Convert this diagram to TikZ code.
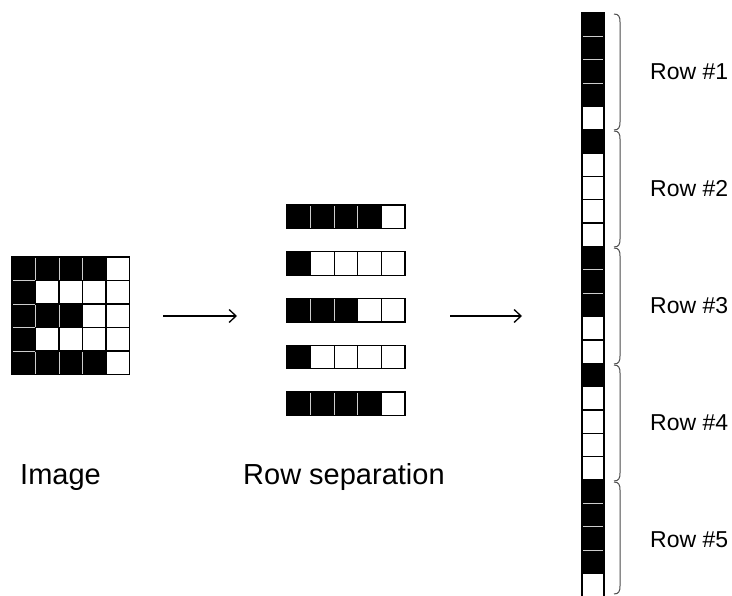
\documentclass[tikz,border=0pt]{standalone}
\usepackage{fontspec}
\setmainfont{Liberation Sans}
\usetikzlibrary{arrows.meta}
\begin{document}
\begin{tikzpicture}[x=1pt,y=-1pt,
  cell/.style={inner sep=0pt,outer sep=0pt,anchor=north west},
  blk/.style={cell,fill=black,draw=white!80!black,line width=0.9pt},
  wht/.style={cell,fill=white,draw=black,line width=1.3pt},
  gsz/.style={minimum width=23.5pt,minimum height=23.5pt},
  ssz/.style={minimum width=23.6pt,minimum height=23.6pt},
  csz/.style={minimum width=22pt,minimum height=23.35pt},
  frm/.style={draw=black,line width=1.3pt},
  arr/.style={line width=1.3pt,-{Straight Barb[length=7pt,width=13pt,line width=1.3pt]}},
  brc/.style={draw=black!70,line width=1pt},
  lblbig/.style={inner sep=0pt,font=\fontsize{29}{34}\selectfont},
  lblrow/.style={inner sep=0pt,font=\fontsize{23}{27}\selectfont}]

\fill[white] (0,0) rectangle (732,596);
\useasboundingbox (0,0) rectangle (732,596);

% ---- the 5x5 image: each row starts with \n black pixels ----
\foreach \r/\n in {1/4,2/1,3/3,4/1,5/4}{
  \foreach \c in {1,...,5}{
    \ifnum\c>\n\relax\else
      \node[blk,gsz] (img-\r-\c) at ({12+(\c-1)*23.5},{257+(\r-1)*23.5}) {};
    \fi
  }
}
\foreach \r/\n in {1/4,2/1,3/3,4/1,5/4}{
  \foreach \c in {1,...,5}{
    \ifnum\c>\n\relax
      \node[wht,gsz] (img-\r-\c) at ({12+(\c-1)*23.5},{257+(\r-1)*23.5}) {};
    \fi
  }
}
\draw[frm] (img-1-1.north west) rectangle (img-5-5.south east);

% ---- rows pulled apart ----
\foreach \r/\n in {1/4,2/1,3/3,4/1,5/4}{
  \foreach \c in {1,...,5}{
    \ifnum\c>\n\relax
      \node[wht,ssz] (sep-\r-\c) at ({287+(\c-1)*23.6},{205+(\r-1)*46.75}) {};
    \else
      \node[blk,ssz] (sep-\r-\c) at ({287+(\c-1)*23.6},{205+(\r-1)*46.75}) {};
    \fi
  }
  \draw[frm] (sep-\r-1.north west) rectangle (sep-\r-5.south east);
}

% ---- rows stacked into one column ----
\foreach \r/\n in {1/4,2/1,3/3,4/1,5/4}{
  \foreach \c in {1,...,5}{
    \ifnum\c>\n\relax\else
      \node[blk,csz] (col-\r-\c) at (582,{13+(5*(\r-1)+\c-1)*23.35}) {};
    \fi
  }
}
\foreach \r/\n in {1/4,2/1,3/3,4/1,5/4}{
  \foreach \c in {1,...,5}{
    \ifnum\c>\n\relax
      \node[wht,csz] (col-\r-\c) at (582,{13+(5*(\r-1)+\c-1)*23.35}) {};
    \fi
  }
}
\draw[frm] (col-1-1.north west) rectangle (col-5-5.south east);

% ---- braces and row labels ----
\foreach \k in {1,...,5}{
  \pgfmathsetmacro{\yt}{14+117*(\k-1)}
  \pgfmathsetmacro{\yb}{\k==5 ? 594 : 130+117*(\k-1)}
  \draw[brc] (614,\yt) .. controls (619,\yt) and (620,\yt+3) .. (620,\yt+8)
    -- (620,\yb-8) .. controls (620,\yb-3) and (619,\yb) .. (614,\yb);
  \node[lblrow,anchor=base west] (rowlbl-\k) at (650,{13+117*(\k-1)+58.5+8.2}) {Row \#\k};
}

% ---- arrows ----
\coordinate (a1s) at (163,316);
\coordinate (a1e) at (237,316);
\coordinate (a2s) at (450,316);
\coordinate (a2e) at (522,316);
\draw[arr] (a1s) -- (a1e);
\draw[arr] (a2s) -- (a2e);

% ---- captions ----
\node[lblbig,anchor=base west] (imglbl) at (20,485) {Image};
\node[lblbig,anchor=base west] (seplbl) at (243,485) {Row separation};
\end{tikzpicture}
\end{document}
